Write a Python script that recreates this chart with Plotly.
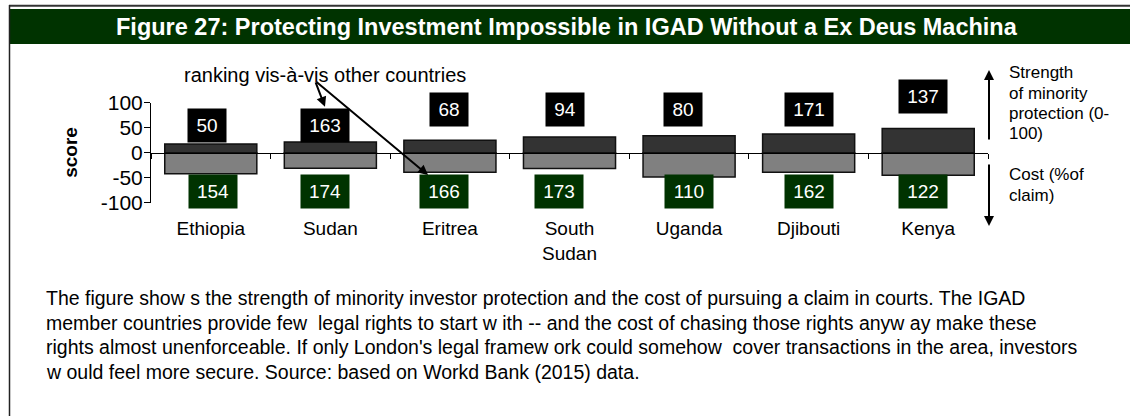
import plotly.graph_objects as go

# ---------------- data ----------------
countries = ["Ethiopia", "Sudan", "Eritrea", "South Sudan", "Uganda", "Djibouti", "Kenya"]
country_labels = ["Ethiopia", "Sudan", "Eritrea", "South<br>Sudan", "Uganda", "Djibouti", "Kenya"]
protection_score = [17.5, 21.5, 25, 31.5, 34, 37.5, 48.5]      # strength of minority protection (0-100)
claim_cost = [42, 31, 39, 31.5, 48.5, 39, 45]                   # cost (% of claim), plotted downward
protection_rank = [50, 163, 68, 94, 80, 171, 137]
cost_rank = [154, 174, 166, 173, 110, 162, 122]
y_ticks = [-100, -50, 0, 50, 100]

title_text = "Figure 27: Protecting Investment Impossible in IGAD Without a Ex Deus Machina"
caption_lines = [
    "The figure show s the strength of minority investor protection and the cost of pursuing a claim in courts. The IGAD",
    "member countries provide few  legal rights to start w ith -- and the cost of chasing those rights anyw ay make these",
    "rights almost unenforceable. If only London's legal framew ork could somehow  cover transactions in the area, investors",
    "w ould feel more secure. Source: based on Workd Bank (2015) data.",
]
strength_lines = ["Strength", "of minority", "protection (0-", "100)"]
cost_lines = ["Cost (%of", "claim)"]
pointer_text = "ranking vis-à-vis other countries"

# ---------------- layout constants ----------------
W, H = 1130, 416
FONT = "Liberation Sans, Arial, sans-serif"
x0_px, x1_px = 151, 988
ytop_px, ybot_px = 102.8, 202.8
def px(x):
    return x / W
def py(y):
    return 1 - y / H
ydom = [py(ybot_px), py(ytop_px)]
zero_paper = (ydom[0] + ydom[1]) / 2

fig = go.Figure()
fig.add_trace(go.Bar(
    x=countries, y=protection_score, width=0.77,
    marker=dict(color="#333333", line=dict(color="#111111", width=1.5)),
    hoverinfo="x+y", showlegend=False))
fig.add_trace(go.Bar(
    x=countries, y=[-c for c in claim_cost], width=0.77,
    marker=dict(color="#808080", line=dict(color="#111111", width=1.5)),
    hoverinfo="x+y", showlegend=False))
# invisible trace to carry the category axis drawn along y = 0
fig.add_trace(go.Scatter(
    x=countries, y=[0] * len(countries), xaxis="x2", yaxis="y",
    mode="markers", marker=dict(opacity=0), hoverinfo="skip", showlegend=False))

annotations = []
black_ypx = [125.5, 125.5, 109.5, 109.5, 109.5, 109.5, 97]
black_shift = [-4, -5, -1, -5, -6, 0, -5]
green_shift = [2, -5, -6, -11, 0, 0, -5]
for i, c in enumerate(countries):
    r = protection_rank[i]
    annotations.append(dict(
        x=c, y=py(black_ypx[i]), xref="x", yref="paper", yanchor="middle", xanchor="center",
        text=str(r), showarrow=False,
        xshift=black_shift[i], bgcolor="#000000", borderpad=0,
        width=38 if r < 100 else 48, height=33,
        font=dict(family=FONT, size=19, color="white")))
    r2 = cost_rank[i]
    annotations.append(dict(
        x=c, y=py(191.2), xref="x", yref="paper", yanchor="middle", xanchor="center",
        text=str(r2), showarrow=False,
        xshift=green_shift[i], bgcolor="#003300", borderpad=0,
        width=38 if r2 < 100 else 48, height=33,
        font=dict(family=FONT, size=19, color="white")))

# pointer text and arrows
annotations.append(dict(
    x=px(182), y=py(75), xref="paper", yref="paper", xanchor="left", yanchor="middle",
    text=pointer_text, showarrow=False, font=dict(family=FONT, size=20, color="black")))
for hx, hy in [(0.955, 92), (1.817, -44.6)]:
    annotations.append(dict(
        x=hx, y=hy, xref="x", yref="y", ax=0.872, ay=144, axref="x", ayref="y",
        text="", showarrow=True, arrowhead=2, arrowsize=1, arrowwidth=2,
        arrowcolor="black", standoff=0, startstandoff=0))

# right side arrows
annotations.append(dict(
    x=px(989), y=py(70), xref="paper", yref="paper", ax=0, ay=71,
    text="", showarrow=True, arrowhead=2, arrowsize=1, arrowwidth=2, arrowcolor="black"))
annotations.append(dict(
    x=px(989), y=py(226), xref="paper", yref="paper", ax=0, ay=-63,
    text="", showarrow=True, arrowhead=2, arrowsize=1, arrowwidth=2, arrowcolor="black"))
for k, line in enumerate(strength_lines):
    annotations.append(dict(
        x=px(1007), y=py(73 + 20.3 * k), xref="paper", yref="paper", xanchor="left",
        yanchor="middle", text=line, showarrow=False,
        font=dict(family=FONT, size=17, color="black")))
for k, line in enumerate(cost_lines):
    annotations.append(dict(
        x=px(1007), y=py(174 + 21 * k), xref="paper", yref="paper", xanchor="left",
        yanchor="middle", text=line, showarrow=False,
        font=dict(family=FONT, size=17, color="black")))

# y axis title
annotations.append(dict(
    x=px(71), y=0, xref="paper", yref="y", xanchor="center", yanchor="middle",
    text="<b>score</b>", textangle=-90,
    showarrow=False, font=dict(family=FONT, size=19, color="black")))

# title
annotations.append(dict(
    x=px(567), y=py(27), xref="paper", yref="paper", xanchor="center", yanchor="middle",
    text="<b>" + title_text + "</b>",
    showarrow=False, font=dict(family=FONT, size=23.5, color="white")))

# caption
for k, line in enumerate(caption_lines):
    annotations.append(dict(
        x=px(44), y=py(298 + 24.7 * k), xref="paper", yref="paper", xanchor="left",
        yanchor="middle", text=line, showarrow=False,
        font=dict(family=FONT, size=19.5, color="black")))

shapes = [
    dict(type="rect", xref="paper", yref="paper", x0=px(9), x1=1, y0=py(44), y1=py(9),
         fillcolor="#003300", line=dict(width=0), layer="below"),
    dict(type="line", xref="paper", yref="paper", x0=px(9), x1=1, y0=py(5.8), y1=py(5.8),
         line=dict(color="#333333", width=2)),
    dict(type="line", xref="paper", yref="paper", x0=px(9.5), x1=px(9.5), y0=0, y1=py(5),
         line=dict(color="#222222", width=1.5)),
]

fig.update_layout(
    width=W, height=H,
    margin=dict(l=0, r=0, t=0, b=0),
    paper_bgcolor="white", plot_bgcolor="white",
    barmode="relative",
    font=dict(family=FONT, size=18, color="black"),
    xaxis=dict(
        domain=[px(x0_px), px(x1_px)], anchor="y", type="category",
        range=[-0.5, 6.5], tickvals=countries, ticktext=country_labels,
        showline=False, ticks="", showgrid=False, zeroline=False,
        ticklabelstandoff=12, automargin=False,
        tickfont=dict(family=FONT, size=19, color="black")),
    xaxis2=dict(
        domain=[px(x0_px), px(x1_px)], overlaying="x", anchor="free", position=zero_paper,
        type="category", range=[-0.5, 6.5], showticklabels=False,
        showline=True, linecolor="#000000", linewidth=1,
        ticks="outside", tickson="boundaries", ticklen=5, tickcolor="#000000",
        showgrid=False, zeroline=False, automargin=False),
    yaxis=dict(
        domain=ydom, range=[-100, 100], tickvals=y_ticks,
        ticktext=[str(v) for v in y_ticks],
        showline=True, linecolor="#000000", linewidth=1,
        ticks="outside", ticklen=6, tickcolor="#000000",
        ticklabelstandoff=-3,
        showgrid=False, zeroline=False, automargin=False,
        tickfont=dict(family=FONT, size=21, color="black")),
    annotations=annotations,
    shapes=shapes,
)

fig.write_html("out.html", config={"displayModeBar": False},
               post_script="document.body.style.margin='0px';")
